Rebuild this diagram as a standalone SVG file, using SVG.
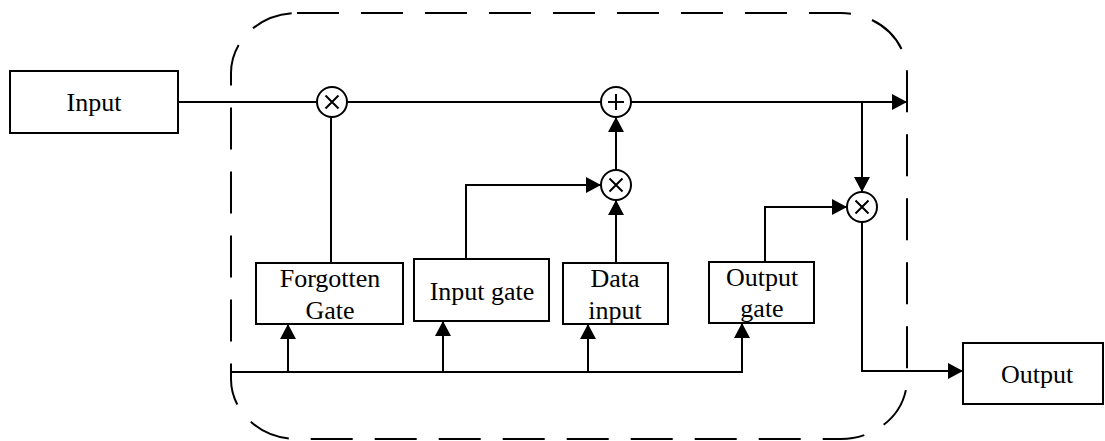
<svg xmlns="http://www.w3.org/2000/svg" width="1105" height="441" viewBox="0 0 1105 441">
<style>
.box{fill:#fff;stroke:#000;stroke-width:2}
.ln{fill:none;stroke:#000;stroke-width:2}
.arr{fill:none;stroke:#000;stroke-width:2;marker-end:url(#ah)}
.op{fill:#fff;stroke:#000;stroke-width:2}
.sym{stroke:#000;stroke-width:2}
.border{fill:none;stroke:#000;stroke-width:2;stroke-dasharray:42 22}
text{font-family:"Liberation Serif","Times New Roman",serif;font-size:26px;fill:#000;text-anchor:middle}
</style>
<defs>
<marker id="ah" markerWidth="16" markerHeight="16" viewBox="0 0 16 16" refX="15" refY="8" orient="auto" markerUnits="userSpaceOnUse">
<path d="M0,0 L15,8 L0,16 Z" fill="#000"/>
</marker>
</defs>
<rect class="border" x="231" y="13" width="676" height="426" rx="66" ry="60"/>
<g id="connectors">
<line class="ln" x1="178" y1="102" x2="317" y2="102"/>
<line class="ln" x1="347" y1="102" x2="601" y2="102"/>
<line class="arr" x1="631" y1="102" x2="907" y2="102"/>
<line class="arr" x1="862" y1="102" x2="862" y2="192"/>
<line class="ln" x1="331" y1="117" x2="331" y2="263"/>
<polyline class="arr" points="466,259 466,185 601,185"/>
<line class="arr" x1="616" y1="263" x2="616" y2="200"/>
<line class="arr" x1="616" y1="170" x2="616" y2="117"/>
<polyline class="arr" points="765,262 765,207 847,207"/>
<polyline class="arr" points="862,222 862,371 963,371"/>
<polyline class="ln" points="232,372 742,372 742,340"/>
<line class="arr" x1="742" y1="372" x2="742" y2="323"/>
<line class="arr" x1="288" y1="372" x2="288" y2="324"/>
<line class="arr" x1="443" y1="372" x2="443" y2="321"/>
<line class="arr" x1="588" y1="372" x2="588" y2="324"/>
</g>
<g id="input">
<rect class="box" x="10" y="71" width="168" height="62"/>
<text x="94" y="111">Input</text>
</g>
<g id="mult1">
<circle class="op" cx="332" cy="102" r="15"/>
<path class="sym" d="M325.5,95.5 L338.5,108.5 M338.5,95.5 L325.5,108.5"/>
</g>
<g id="add1">
<circle class="op" cx="616" cy="102" r="15"/>
<path class="sym" d="M608,102 L624,102 M616,94 L616,110"/>
</g>
<g id="mult2">
<circle class="op" cx="616" cy="185" r="15"/>
<path class="sym" d="M609.5,178.5 L622.5,191.5 M622.5,178.5 L609.5,191.5"/>
</g>
<g id="mult3">
<circle class="op" cx="862" cy="207" r="15"/>
<path class="sym" d="M855.5,200.5 L868.5,213.5 M868.5,200.5 L855.5,213.5"/>
</g>
<g id="forgotten-gate">
<rect class="box" x="256" y="263" width="147" height="61"/>
<text x="330" y="287">Forgotten</text>
<text x="330" y="319">Gate</text>
</g>
<g id="input-gate">
<rect class="box" x="414" y="259" width="135" height="62"/>
<text x="482" y="300">Input gate</text>
</g>
<g id="data-input">
<rect class="box" x="563" y="263" width="105" height="61"/>
<text x="615" y="287">Data</text>
<text x="615" y="319">input</text>
</g>
<g id="output-gate">
<rect class="box" x="709" y="262" width="105" height="61"/>
<text x="762" y="286">Output</text>
<text x="762" y="317">gate</text>
</g>
<g id="output">
<rect class="box" x="963" y="343" width="140" height="61"/>
<text x="1037" y="383">Output</text>
</g>
</svg>
